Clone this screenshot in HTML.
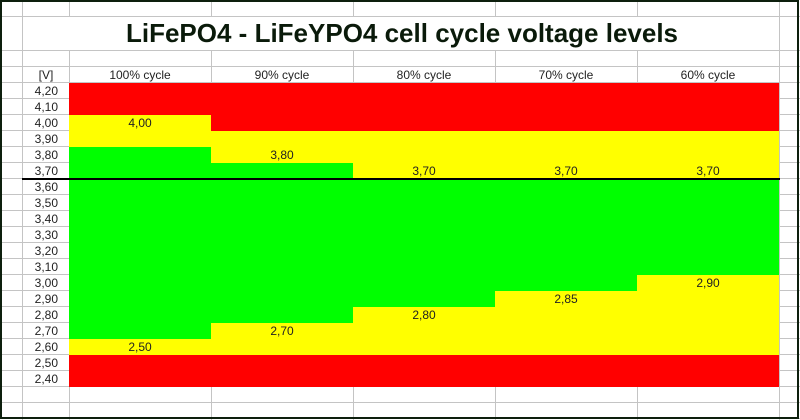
<!DOCTYPE html>
<html><head><meta charset="utf-8"><style>
html,body{margin:0;padding:0;background:#fff}
#c{position:relative;width:800px;height:420px;overflow:hidden;font-family:"Liberation Sans",sans-serif;background:#fff}
svg text{font-family:"Liberation Sans",sans-serif}
</style></head><body>
<div id="c">
<svg id="s" width="800" height="420" xmlns="http://www.w3.org/2000/svg"></svg>
</div>
<script>
const categories=["100% cycle","90% cycle","80% cycle","70% cycle","60% cycle"];
const rowLabels=["4,20","4,10","4,00","3,90","3,80","3,70","3,60","3,50","3,40","3,30","3,20","3,10","3,00","2,90","2,80","2,70","2,60","2,50","2,40"];
const vMax=4.20, vMin=2.40;
const upperTop=[4.00,3.90,3.90,3.90,3.90];
const upperBottom=[3.90,3.80,3.70,3.70,3.70];
const upperValues=["4,00","3,80","3,70","3,70","3,70"];
const upperLabelV=[4.00,3.80,3.70,3.70,3.70];
const lowerTop=[2.60,2.70,2.80,2.90,3.00];
const lowerBottom=[2.60,2.60,2.60,2.60,2.60];
const lowerValues=["2,50","2,70","2,80","2,85","2,90"];
const lowerLabelV=[2.60,2.70,2.80,2.90,3.00];
const thresholdV=3.65;

const NS="http://www.w3.org/2000/svg";
const s=document.getElementById('s');
const ROW=16, Y0=83, X0=69, CW=142;
function yTop(v){return Y0+Math.round((vMax-v)/0.1)*ROW;}
function yBot(v){return yTop(v)+ROW;}
function xL(i){return X0+i*CW;}
function el(t,a){const e=document.createElementNS(NS,t);for(const k in a)e.setAttribute(k,a[k]);s.appendChild(e);return e;}

// grid
const hy=[16,50,66];
for(let i=0;i<=rowLabels.length+2;i++)hy.push(Y0-1+i*ROW);
hy.forEach(y=>{const l=el('line',{x1:0,x2:800,y1:y+0.5,y2:y+0.5,stroke:'#c4c4c4','stroke-width':1});

});
const vx=[22,69,211,353,495,637,779];
vx.forEach(x=>{
  [[0,16],[50,420]].forEach(([a,b])=>{
    const l=el('line',{x1:x+0.5,x2:x+0.5,y1:a,y2:b,stroke:'#c4c4c4','stroke-width':1});
    
    
  });
});
let l0=el('line',{x1:22.5,x2:22.5,y1:16,y2:50,stroke:'#c4c4c4'});


let l1=el('line',{x1:779.5,x2:779.5,y1:16,y2:50,stroke:'#c4c4c4'});



// title
const t=el('text',{x:402,y:42,'text-anchor':'middle','font-size':26,'font-weight':'bold',fill:'#0a1a0a'});
t.textContent="LiFePO4 - LiFeYPO4 cell cycle voltage levels";



// header
const hv=el('text',{x:46,y:79,'text-anchor':'middle','font-size':12,fill:'#222'});
hv.textContent="[V]";


categories.forEach((c,i)=>{
  const h=el('text',{x:xL(i)+CW/2,y:79,'text-anchor':'middle','font-size':12,fill:'#222'});
  h.textContent=c;
  
  
});
rowLabels.forEach((r,i)=>{
  const tx=el('text',{x:58,y:Y0+i*ROW+12,'text-anchor':'end','font-size':12,fill:'#222'});
  tx.textContent=r;
  
  
});

// bands
categories.forEach((c,i)=>{
  const x=xL(i);
  const bands=[
    [yTop(vMax),yTop(upperTop[i]),'#ff0000','red-band-upper'],
    [yTop(upperTop[i]),yBot(upperBottom[i]),'#ffff00','yellow-band-upper'],
    [yBot(upperBottom[i]),yTop(lowerTop[i]),'#00ff00','green-band'],
    [yTop(lowerTop[i]),yBot(lowerBottom[i]),'#ffff00','yellow-band-lower'],
    [yBot(lowerBottom[i]),yBot(vMin),'#ff0000','red-band-lower']];
  bands.forEach(b=>{
    if(b[1]<=b[0])return;
    const r=el('rect',{x:x,y:b[0],width:CW,height:b[1]-b[0],fill:b[2]});
    
    
  });
});
categories.forEach((c,i)=>{
  const a=el('text',{x:xL(i)+CW/2,y:yTop(upperLabelV[i])+12,'text-anchor':'middle','font-size':12,fill:'#222'});
  a.textContent=upperValues[i];
  
  
  const b=el('text',{x:xL(i)+CW/2,y:yTop(lowerLabelV[i])+12,'text-anchor':'middle','font-size':12,fill:'#222'});
  b.textContent=lowerValues[i];
  
  
});
// threshold line
const ty=yBot(3.70);
const th=el('line',{x1:22,x2:780,y1:ty,y2:ty,stroke:'#000','stroke-width':2});


// frame
const f=el('rect',{x:1,y:1,width:797,height:417,fill:'none',stroke:'#0d1f0d','stroke-width':2});


</script>
</body></html>
